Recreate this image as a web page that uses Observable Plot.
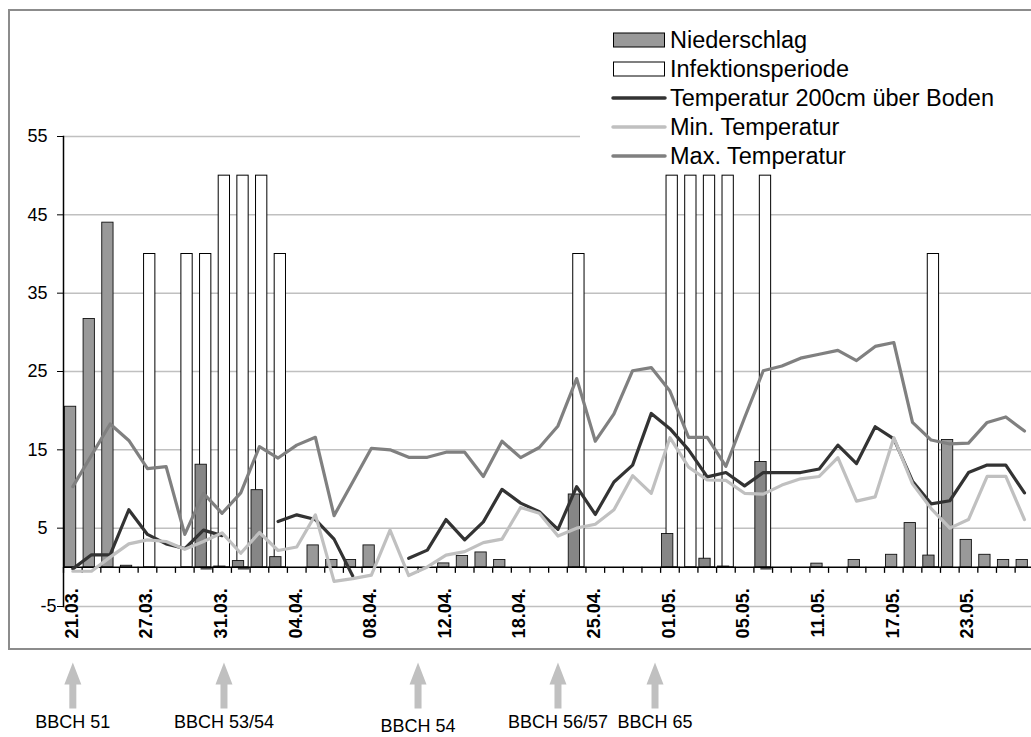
<!DOCTYPE html>
<html><head><meta charset="utf-8">
<script src="https://cdn.jsdelivr.net/npm/d3@7"></script>
<script src="https://cdn.jsdelivr.net/npm/@observablehq/plot@0.6"></script>
<style>
html,body{margin:0;padding:0;overflow:hidden;background:#fff;width:1031px;height:737px;}
#wrap{position:relative;width:1031px;height:737px;overflow:hidden;font-family:"Liberation Sans",Arial,sans-serif;}
#frame{position:absolute;left:8px;top:9px;width:1100px;height:641px;border:2px solid #8c8c8c;box-sizing:border-box;}
#chart{position:absolute;left:0;top:0;}
#legend{position:absolute;left:580px;top:24px;}
#notes{position:absolute;left:0;top:650px;}
</style></head><body>
<div id="wrap"><div id="frame"></div><div id="chart"></div><div id="legend"></div><div id="notes"></div></div>
<script>
// ---- data ----
const tickLabels = ["21.03.","27.03.","31.03.","04.04.","08.04.","12.04.","18.04.","25.04.","01.05.","05.05.","11.05.","17.05.","23.05."];
const tickEvery = 4;
const yTicks = [-5, 5, 15, 25, 35, 45, 55];

const niederschlag = [20.5,31.7,44.0,0.2,0,0,0,13.1,0.1,0.8,
  9.85,1.3,0,2.8,0.93,0.93,2.8,0,0,0,
  0.5,1.45,1.9,0.93,0,0,0,9.3,0,0,
  0,0,4.25,0,1.1,0.1,0,13.45,0,0,
  0.47,0,0.93,0,1.6,5.65,1.5,16.25,3.5,1.6,
  0.93,0.93];
const infektion = [0,0,0,0,40,0,40,40,50,50,
  50,40,0,0,0,0,0,0,0,0,
  0,0,0,0,0,0,0,40,0,0,
  0,0,50,50,50,50,0,50,0,0,
  0,0,0,0,0,0,40,0,0,0,
  0,0];
const unterMarke = [0,0,0,0,0,0,0,-0.35,0,-0.35,
  0,0,0,0,0,0,0,0,0,0,
  0,0,0,0,0,0,0,0,0,0,
  0,0,0,0,0,0,0,-0.35,0,0,
  0,0,0,0,0,0,0,0,0,0,
  0,0];
const temp200 = [-0.2,1.6,1.6,7.35,4.2,3.0,2.4,4.75,4.05,null,
  null,5.85,6.7,6.1,3.6,-1.1,null,null,1.15,2.2,
  6.1,3.5,5.8,9.95,8.2,7.1,4.85,10.3,6.75,10.9,
  13.05,19.65,17.7,15.0,11.55,12.1,10.4,12.1,12.1,12.1,
  12.55,15.6,13.25,17.95,16.4,11.0,8.1,8.5,12.1,13.05,
  13.05,9.5];
const minTemp = [-0.5,-0.5,1.3,3.0,3.5,3.3,2.3,3.3,4.4,1.8,
  4.45,2.15,2.6,6.7,-1.8,-1.45,-1.0,4.75,-1.05,0.05,
  1.55,2.0,3.15,3.6,7.65,6.9,4.0,5.0,5.5,7.35,
  11.7,9.45,16.55,12.8,11.15,11.1,9.45,9.35,10.5,11.3,
  11.6,14.0,8.45,9.0,16.55,10.65,7.5,5.0,6.1,11.6,
  11.6,6.1];
const maxTemp = [10.3,14.3,18.3,16.2,12.6,12.85,4.2,9.45,6.9,9.5,
  15.4,13.95,15.6,16.6,6.6,10.9,15.2,15.0,14.05,14.05,
  14.7,14.7,11.6,16.1,14.0,15.3,18.05,24.1,16.1,19.6,
  25.1,25.5,22.5,16.6,16.6,12.9,19.1,25.1,25.7,26.7,
  27.2,27.7,26.4,28.2,28.7,18.5,16.25,15.75,15.85,18.5,
  19.2,17.4];
const seriesNames = ["Niederschlag","Infektionsperiode","Temperatur 200cm über Boden","Min. Temperatur","Max. Temperatur"];
const bbchLabels = ["BBCH 51","BBCH 53/54","BBCH 54","BBCH 56/57","BBCH 65"];
const bbchPos = [0, 8.1, 18.5, 26.0, 31.2];

// ---- styles ----
const C = {rain:"#999999", rainOver:"#868686", inf:"#ffffff", t:"#333333", mn:"#c0c0c0", mx:"#808080", grid:"#c0c0c0"};
const font = "Liberation Sans, Arial, sans-serif";
const n = niederschlag.length;
const x0 = 63, x1 = 1033.3, bw = (x1 - x0) / n;
const inset = (bw - 11.3) / 2, shift = 2.25;

const days = d3.range(n).map(i => ({
  i, rain: niederschlag[i], inf: infektion[i], neg: unterMarke[i],
  t: temp200[i], mn: minTemp[i], mx: maxTemp[i]
}));

const chart = Plot.plot({
  width: 1031, height: 650,
  marginLeft: x0, marginRight: 0, marginTop: 136, marginBottom: 44,
  style: {fontFamily: font, background: "transparent", color: "black", overflow: "visible", maxWidth: "none"},
  x: {type: "band", domain: d3.range(n), range: [x0, x1], padding: 0, axis: null},
  y: {domain: [-5, 55], axis: null},
  marks: [
    Plot.gridY(yTicks, {stroke: C.grid, strokeOpacity: 1, strokeWidth: 1.5}),
    Plot.barY(days.filter(d => d.inf > 0), {x: "i", y: "inf", fill: C.inf, stroke: "black", strokeWidth: 1, insetLeft: inset, insetRight: inset, dx: shift}),
    Plot.barY(days.filter(d => d.neg < 0), {x: "i", y: "neg", fill: "#4a4a4a", insetLeft: inset, insetRight: inset, dx: shift + 1}),
    Plot.barY(days.filter(d => d.rain > 0), {x: "i", y: "rain", fill: d => d.inf > 0 ? C.rainOver : C.rain, stroke: "#111", strokeWidth: 0.9, insetLeft: inset, insetRight: inset, dx: -shift}),
    Plot.ruleY([0], {stroke: "black", strokeWidth: 1.5}),
    Plot.ruleX(days, {x: "i", y1: 0, y2: -0.77, dx: -bw / 2, stroke: "black", strokeWidth: 1.3}),
    Plot.frame({anchor: "left", stroke: "black", strokeWidth: 1.5}),
    Plot.axisY(yTicks.filter(v => v > 0), {tickSize: 6, tickPadding: 10, fontSize: 18, tickFormat: d => String(d)}),
    Plot.axisY(yTicks.filter(v => v < 0), {tickSize: 6, tickPadding: 1, fontSize: 18, tickFormat: d => String(d)}),
    Plot.line(days, {x: "i", y: "t", stroke: C.t, strokeWidth: 3.2, strokeLinejoin: "round", strokeLinecap: "round"}),
    Plot.line(days, {x: "i", y: "mn", stroke: C.mn, strokeWidth: 3.2, strokeLinejoin: "round", strokeLinecap: "round"}),
    Plot.line(days, {x: "i", y: "mx", stroke: C.mx, strokeWidth: 3.2, strokeLinejoin: "round", strokeLinecap: "round"}),
    Plot.text(tickLabels, {x: (d, k) => k * tickEvery, y: 0, text: d => d, rotate: -90, textAnchor: "end", dy: 21, dx: -1, fontWeight: "bold", fontSize: 18, fill: "black"})
  ]
});
document.getElementById("chart").appendChild(chart);

// ---- legend ----
const legW = 451, legH = 146, rowY = [16, 45, 74, 103, 132];
const kinds = [
  {type: "rect", fill: C.rain}, {type: "rect", fill: C.inf},
  {type: "line", stroke: C.t}, {type: "line", stroke: C.mn}, {type: "line", stroke: C.mx}
];
const leg = d3.select("#legend").append("svg").attr("width", legW).attr("height", legH)
  .style("font-family", font).style("display", "block");
leg.append("rect").attr("width", legW).attr("height", legH).attr("fill", "white");
seriesNames.forEach((name, k) => {
  const y = rowY[k], kd = kinds[k];
  if (kd.type === "rect") {
    leg.append("rect").attr("x", 33.5).attr("y", y - 7).attr("width", 51).attr("height", 14)
      .attr("fill", kd.fill).attr("stroke", "black").attr("stroke-width", 1);
  } else {
    leg.append("line").attr("x1", 33).attr("x2", 85).attr("y1", y).attr("y2", y)
      .attr("stroke", kd.stroke).attr("stroke-width", 3.5).attr("stroke-linecap", "round");
  }
  leg.append("text").attr("x", 90).attr("y", y).attr("dy", "0.36em")
    .attr("font-size", 23.5).attr("fill", "black").text(name);
});

// ---- BBCH annotations ----
const bbch = bbchLabels.map((label, k) => ({label, pos: bbchPos[k]}));
const arrowShape = {
  draw(context, l) {
    const sw = 3.5, hw = 8.5, hh = 22;
    context.moveTo(-sw, 0);
    context.lineTo(-sw, -l + hh);
    context.lineTo(-hw, -l + hh);
    context.lineTo(0, -l);
    context.lineTo(hw, -l + hh);
    context.lineTo(sw, -l + hh);
    context.lineTo(sw, 0);
    context.closePath();
  }
};
const notes = Plot.plot({
  width: 1031, height: 87, marginLeft: x0, marginRight: 0, marginTop: 0, marginBottom: 0,
  style: {fontFamily: font, background: "transparent", color: "black", overflow: "visible", maxWidth: "none"},
  x: {type: "linear", domain: [-0.5, n - 0.5], range: [x0, x1], axis: null},
  y: {type: "linear", domain: [0, 87], range: [0, 87], axis: null},
  marks: [
    Plot.vector(bbch, {x: "pos", y: 58, length: 46, anchor: "start", shape: arrowShape, fill: "#c0c0c0", stroke: "none"}),
    Plot.text(bbch, {x: "pos", y: d => d.label === "BBCH 54" ? 76 : 72, text: "label", fontSize: 18, fill: "black"})
  ]
});
document.getElementById("notes").appendChild(notes);
</script>
</body></html>
